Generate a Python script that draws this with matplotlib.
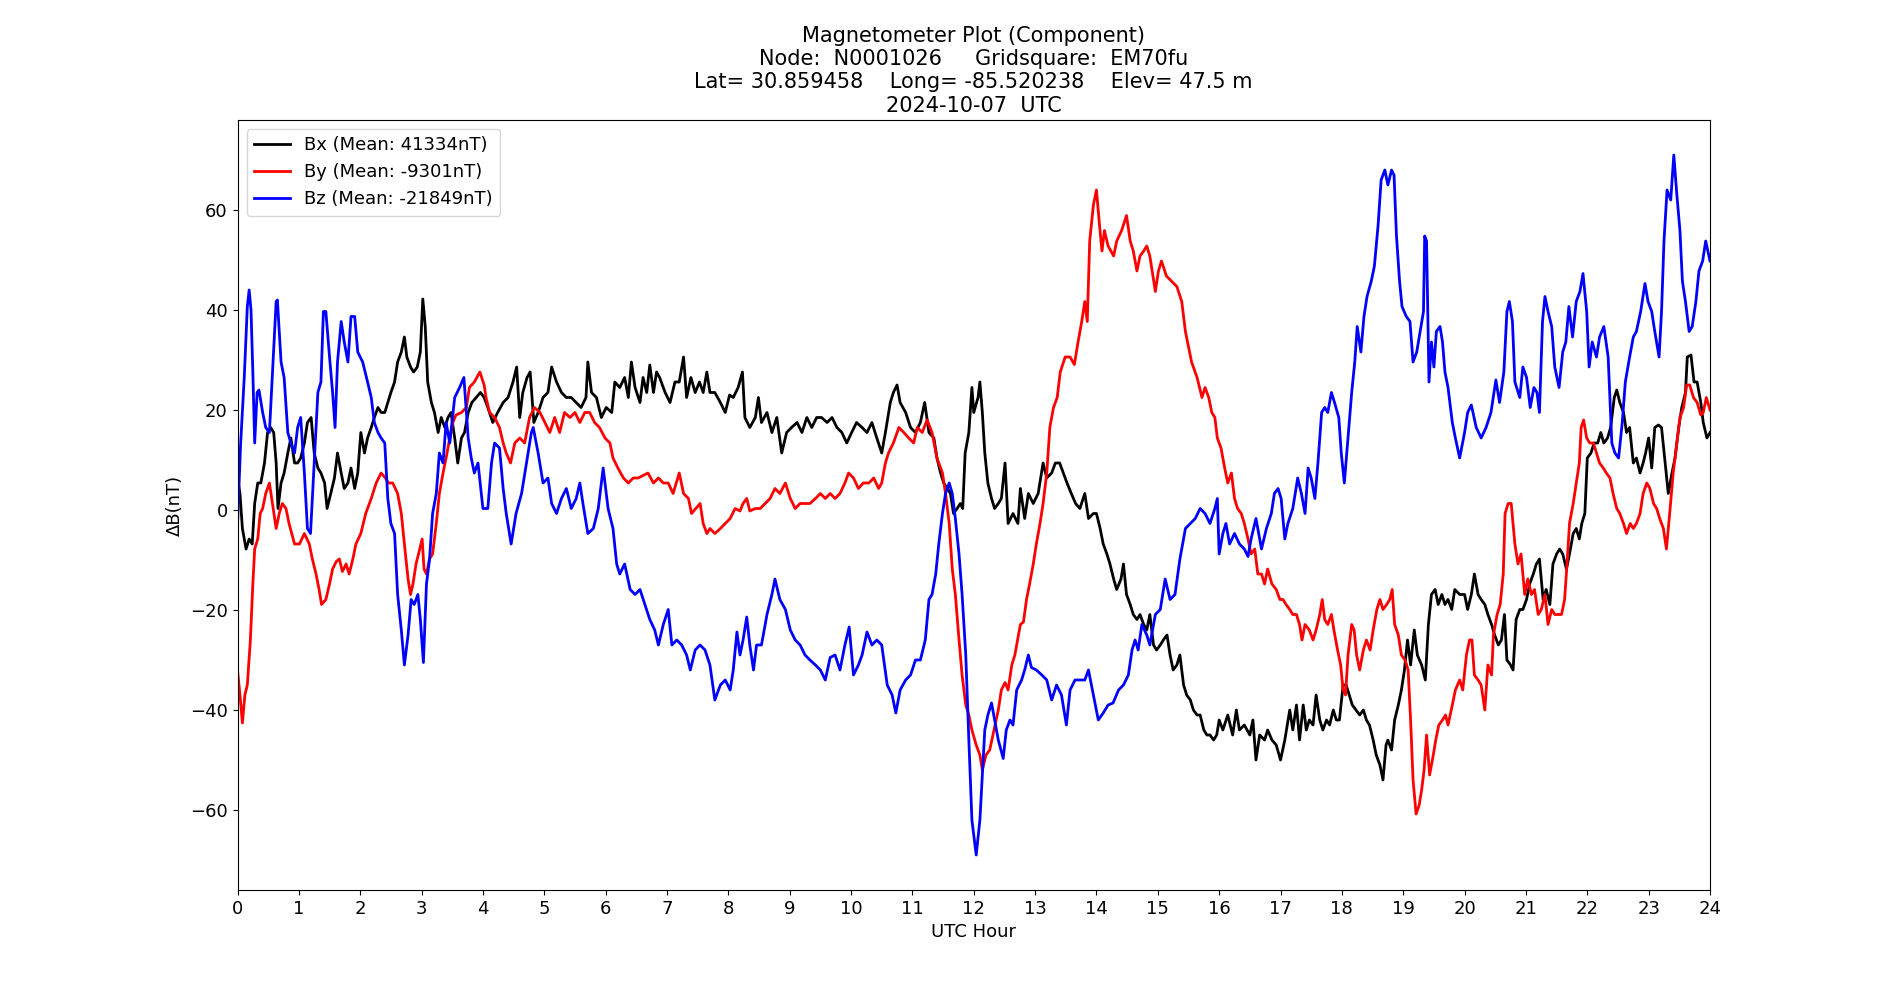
import matplotlib
matplotlib.use("Agg")
from matplotlib import pyplot as plt

# readings: (UTC hour, delta nT)
bx_t = [0, 0.04, 0.08, 0.14, 0.19, 0.24, 0.28, 0.33, 0.38, 0.44, 0.49, 0.54, 0.59, 0.63, 0.66, 0.71, 0.76, 0.82, 0.87, 0.93,
        0.98, 1.03, 1.09, 1.14, 1.2, 1.25, 1.31, 1.36, 1.42, 1.46, 1.52, 1.58, 1.63, 1.69, 1.74, 1.8, 1.85, 1.91, 1.96, 2.01,
        2.07, 2.12, 2.18, 2.23, 2.29, 2.34, 2.4, 2.45, 2.5, 2.56, 2.61, 2.67, 2.72, 2.76, 2.82, 2.87, 2.93, 2.98, 3.02, 3.06,
        3.1, 3.16, 3.21, 3.27, 3.32, 3.38, 3.43, 3.48, 3.54, 3.59, 3.65, 3.7, 3.76, 3.82, 3.89, 3.96,
        4.02, 4.08, 4.16, 4.24, 4.33, 4.41, 4.49, 4.55, 4.6, 4.65, 4.72, 4.77, 4.83, 4.9, 4.98, 5.06, 5.12, 5.2, 5.28, 5.36,
        5.44, 5.52, 5.6, 5.68, 5.71, 5.77, 5.85, 5.93, 6.01, 6.1, 6.15, 6.23, 6.31, 6.37, 6.42, 6.48, 6.56, 6.61, 6.67, 6.72,
        6.78, 6.83, 6.88, 6.97, 7.05, 7.13, 7.2, 7.27, 7.32, 7.39, 7.46, 7.53, 7.59, 7.65, 7.7, 7.78, 7.87, 7.95,
        8.02, 8.08, 8.16, 8.23, 8.27, 8.35, 8.44, 8.49, 8.54, 8.63, 8.71, 8.79, 8.87, 8.95, 9.03, 9.12, 9.2, 9.28, 9.36, 9.44,
        9.52, 9.61, 9.69, 9.77, 9.85, 9.93, 10.01, 10.09, 10.18, 10.26, 10.34, 10.42, 10.5, 10.56, 10.64, 10.69, 10.75, 10.8,
        10.89, 10.97, 11.05, 11.13, 11.2, 11.27, 11.35, 11.4, 11.46, 11.51, 11.57, 11.62, 11.67, 11.73, 11.78, 11.82, 11.86,
        11.92, 11.97, 12.0, 12.07, 12.1, 12.14, 12.18, 12.23, 12.29, 12.34, 12.4, 12.45, 12.51, 12.56, 12.64, 12.72, 12.76,
        12.83, 12.89, 12.97, 13.05, 13.13, 13.19, 13.27, 13.33, 13.4, 13.46, 13.52, 13.59, 13.66, 13.73, 13.81, 13.87, 13.95,
        14.0, 14.06, 14.11, 14.17, 14.22, 14.28, 14.33, 14.4, 14.44, 14.49, 14.55, 14.6, 14.66, 14.71, 14.77, 14.82, 14.87,
        14.93, 14.98, 15.04, 15.09, 15.15, 15.2, 15.25, 15.31, 15.36, 15.42, 15.47, 15.53, 15.58, 15.64, 15.69, 15.75, 15.8,
        15.85, 15.91, 15.96, 16.0, 16.06, 16.14, 16.22, 16.28, 16.33, 16.41, 16.5, 16.55, 16.6, 16.66, 16.74, 16.79, 16.86,
        16.93, 17.0, 17.07, 17.15, 17.2, 17.26, 17.31, 17.37, 17.42, 17.47, 17.53, 17.58, 17.64, 17.69, 17.75, 17.8, 17.86,
        17.91, 17.96, 18.02, 18.07, 18.12, 18.17, 18.23, 18.29, 18.35, 18.4, 18.45, 18.51, 18.56, 18.62, 18.67, 18.72, 18.75,
        18.81, 18.86, 18.92, 18.97, 19.02, 19.07, 19.12, 19.18, 19.23, 19.3, 19.36, 19.41, 19.46, 19.52, 19.57, 19.63, 19.68,
        19.73, 19.79, 19.84, 19.92, 20.0, 20.05, 20.11, 20.16, 20.22, 20.27, 20.33, 20.38, 20.44, 20.49, 20.55, 20.6, 20.65,
        20.69, 20.75, 20.79, 20.84, 20.9, 20.95, 21.01, 21.06, 21.12, 21.17, 21.22, 21.28, 21.33, 21.39, 21.44, 21.5, 21.55,
        21.6, 21.66, 21.71, 21.77, 21.82, 21.87, 21.91, 21.96, 22.0, 22.06, 22.11, 22.17, 22.22, 22.27, 22.33, 22.38, 22.44,
        22.48, 22.53, 22.59, 22.64, 22.69, 22.75, 22.8, 22.86, 22.91, 22.95, 23.0, 23.05, 23.1, 23.16, 23.21, 23.27, 23.32,
        23.38, 23.43, 23.49, 23.54, 23.6, 23.63, 23.69, 23.74, 23.79, 23.85, 23.89, 23.95, 24.0]
bx_v = [6.4, 3.3, -3.7, -7.8, -5.8, -6.8, 1.3, 5.4, 5.4, 9.4, 15.5, 16.5, 15.5, 9.4, 0.3, 5.4, 7.4, 11.4, 14.4, 9.4,
        9.4, 10.4, 13.4, 17.5, 18.5, 11.4, 8.4, 7.4, 5.4, 0.3, 3.3, 6.4, 11.4, 7.4, 4.3, 5.4, 8.4, 4.3, 7.4, 15.5,
        11.4, 14.4, 16.5, 18.5, 20.5, 19.5, 19.5, 21.5, 23.5, 25.6, 29.6, 31.6, 34.6, 30.6, 28.6, 27.6, 28.6, 31.6, 42.2, 36.7,
        25.6, 21.5, 19.5, 15.5, 18.5, 16.5, 18.5, 19.5, 14.4, 9.4, 14.4, 15.5, 19.5, 21.5, 22.5, 23.5,
        22.5, 20.5, 17.5, 19.5, 21.5, 22.5, 25.6, 28.6, 18.5, 23.5, 26.5, 27.6, 17.5, 19.5, 22.5, 23.5, 28.6, 25.6, 23.5, 22.5,
        22.5, 21.5, 20.5, 22.5, 29.6, 23.5, 22.5, 18.5, 20.5, 19.5, 25.6, 24.5, 26.5, 22.5, 29.6, 24.5, 21.5, 26.5, 23.5, 29.0,
        23.5, 27.6, 26.5, 23.5, 21.5, 25.6, 25.6, 30.6, 22.5, 26.5, 23.5, 25.6, 23.5, 27.6, 23.5, 23.5, 21.5, 19.5,
        23.0, 22.5, 24.5, 27.6, 18.5, 16.5, 18.5, 22.5, 17.5, 19.5, 15.5, 18.5, 11.4, 15.5, 16.5, 17.5, 15.5, 18.5, 16.5, 18.5,
        18.5, 17.5, 18.5, 16.5, 15.5, 13.4, 15.5, 17.5, 16.5, 15.5, 17.5, 14.4, 11.4, 15.5, 21.5, 23.5, 25.0, 21.5,
        19.5, 16.5, 15.5, 17.5, 21.5, 15.5, 14.4, 10.4, 7.4, 5.4, 4.3, 3.3, -0.7, 0.3, 1.3, 0.3, 11.4,
        15.5, 24.5, 19.5, 22.5, 25.6, 19.5, 11.4, 5.4, 2.3, 0.3, 1.3, 2.3, 9.4, -2.7, -0.7, -2.7, 4.3,
        -1.7, 3.3, 1.3, 3.3, 9.4, 6.4, 7.4, 9.4, 9.4, 7.4, 5.4, 3.3, 1.3, 0.3, 3.3, -1.7, -0.7,
        -0.7, -3.7, -6.8, -8.8, -10.8, -13.8, -15.9, -13.8, -10.8, -16.9, -18.9, -20.9, -21.9, -20.9, -22.9, -24.0, -20.9,
        -27.0, -28.0, -27.0, -26.0, -25.0, -29.0, -32.0, -31.0, -29.0, -35.0, -37.0, -38.0, -40.0, -41.0, -41.0, -44.0, -45.0,
        -45.0, -46.0, -45.0, -42.0, -44.0, -41.0, -45.0, -40.0, -44.0, -43.0, -45.0, -42.0, -50.0, -45.0, -46.0, -44.0, -46.0,
        -47.0, -50.0, -46.0, -40.0, -44.0, -39.0, -46.0, -39.0, -44.0, -42.0, -43.0, -37.0, -42.0, -44.0, -42.0, -43.0, -40.0,
        -42.0, -42.0, -35.0, -35.0, -37.0, -39.0, -40.0, -41.0, -40.0, -42.0, -43.0, -46.0, -49.0, -51.0, -54.0, -47.0, -46.0,
        -48.0, -42.0, -39.0, -36.0, -32.0, -26.0, -31.0, -24.0, -29.0, -31.0, -34.0, -22.9, -16.9, -15.9, -18.9, -16.9, -18.9,
        -17.9, -19.9, -15.9, -16.9, -16.9, -19.9, -16.9, -12.8, -16.9, -17.9, -18.9, -20.9, -22.9, -25.0, -27.0, -26.0, -20.9,
        -30.0, -31.0, -32.0, -21.9, -19.9, -19.9, -17.9, -14.8, -12.8, -10.8, -9.8, -17.9, -15.9, -18.9, -10.8, -8.8, -7.8,
        -8.8, -11.8, -8.8, -4.7, -3.7, -5.8, -2.7, -0.7, 10.4, 11.4, 13.4, 13.4, 15.5, 13.4, 14.4, 16.5, 22.5,
        24.0, 21.5, 19.5, 15.5, 16.5, 9.4, 10.4, 7.4, 9.4, 11.4, 14.4, 8.4, 16.5, 17.0, 16.5, 9.4, 3.3,
        7.4, 10.4, 16.5, 20.5, 23.5, 30.6, 31.0, 25.6, 25.6, 21.5, 17.5, 14.4, 15.5]

by_t = [0, 0.04, 0.08, 0.12, 0.16, 0.21, 0.25, 0.28, 0.33, 0.37, 0.41, 0.46, 0.52, 0.57, 0.63, 0.68, 0.73, 0.79, 0.84, 0.93,
        1.01, 1.09, 1.17, 1.22, 1.28, 1.33, 1.37, 1.44, 1.5, 1.55, 1.61, 1.66, 1.71, 1.77, 1.82, 1.88, 1.93, 2.01, 2.09, 2.18,
        2.26, 2.34, 2.41, 2.46, 2.53, 2.61, 2.67, 2.72, 2.78, 2.82, 2.86, 2.91, 2.97, 3.01, 3.04, 3.08, 3.13, 3.18, 3.24, 3.29,
        3.35, 3.4, 3.46, 3.51, 3.56, 3.65, 3.73, 3.78, 3.86, 3.95,
        4.02, 4.05, 4.11, 4.19, 4.27, 4.33, 4.38, 4.45, 4.52, 4.6, 4.68, 4.76, 4.84, 4.93, 5.01, 5.09, 5.17, 5.25, 5.33, 5.42,
        5.5, 5.58, 5.66, 5.74, 5.82, 5.9, 5.99, 6.07, 6.12, 6.2, 6.29, 6.37, 6.45, 6.53, 6.61, 6.69, 6.78, 6.86, 6.94, 7.02,
        7.1, 7.2, 7.27, 7.35, 7.4, 7.47, 7.54, 7.59, 7.65, 7.7, 7.78, 7.87, 7.95,
        8.03, 8.11, 8.19, 8.24, 8.3, 8.35, 8.44, 8.52, 8.6, 8.68, 8.76, 8.84, 8.93, 9.01, 9.09, 9.17, 9.25, 9.33, 9.42, 9.5,
        9.58, 9.66, 9.74, 9.82, 9.9, 9.96, 10.04, 10.12, 10.2, 10.29, 10.37, 10.45, 10.5, 10.56, 10.61, 10.69, 10.78, 10.86,
        10.94, 11.02, 11.08, 11.16, 11.24, 11.32, 11.4, 11.49, 11.54, 11.6, 11.65, 11.7, 11.76, 11.81, 11.87, 11.92, 11.97,
        12.04, 12.1, 12.14, 12.2, 12.26, 12.33, 12.4, 12.45, 12.51, 12.56, 12.62, 12.67, 12.76, 12.81, 12.86, 12.91, 12.97,
        13.02, 13.08, 13.13, 13.19, 13.24, 13.3, 13.36, 13.41, 13.49, 13.57, 13.64, 13.7, 13.76, 13.81, 13.85, 13.89, 13.95,
        14.0, 14.05, 14.09, 14.13, 14.19, 14.28, 14.33, 14.41, 14.49, 14.55, 14.6, 14.66, 14.71, 14.77, 14.82, 14.87, 14.96,
        15.01, 15.06, 15.14, 15.22, 15.31, 15.39, 15.45, 15.5, 15.55, 15.64, 15.72, 15.77, 15.83, 15.88, 15.93, 15.97, 16.03,
        16.09, 16.14, 16.2, 16.25, 16.3, 16.36, 16.41, 16.47, 16.52, 16.58, 16.63, 16.69, 16.74, 16.79, 16.86, 16.93, 16.99,
        17.04, 17.09, 17.15, 17.2, 17.26, 17.31, 17.35, 17.4, 17.47, 17.53, 17.58, 17.64, 17.68, 17.72, 17.77, 17.83, 17.87,
        17.93, 17.98, 18.02, 18.06, 18.1, 18.16, 18.2, 18.24, 18.29, 18.35, 18.4, 18.46, 18.51, 18.57, 18.62, 18.67, 18.73,
        18.78, 18.82, 18.86, 18.92, 18.97, 19.03, 19.08, 19.12, 19.16, 19.21, 19.26, 19.3, 19.34, 19.38, 19.43, 19.49, 19.53,
        19.58, 19.64, 19.69, 19.73, 19.8, 19.85, 19.92, 19.97, 20.03, 20.08, 20.12, 20.16, 20.22, 20.27, 20.33, 20.38, 20.44,
        20.47, 20.53, 20.58, 20.63, 20.66, 20.71, 20.76, 20.82, 20.87, 20.92, 20.98, 21.03, 21.09, 21.14, 21.2, 21.25, 21.31,
        21.36, 21.42, 21.47, 21.52, 21.58, 21.63, 21.67, 21.71, 21.77, 21.82, 21.87, 21.9, 21.94, 21.99, 22.04, 22.1, 22.15,
        22.2, 22.26, 22.31, 22.37, 22.42, 22.48, 22.53, 22.59, 22.64, 22.7, 22.75, 22.8, 22.86, 22.91, 22.97, 23.02, 23.08,
        23.13, 23.18, 23.24, 23.29, 23.35, 23.4, 23.46, 23.51, 23.57, 23.62, 23.67, 23.73, 23.79, 23.85, 23.89, 23.94, 24.0]
by_v = [-32.0, -37.0, -42.6, -37.0, -35.0, -26.0, -14.8, -7.8, -5.8, -0.7, 0.3, 3.3, 5.4, 1.3, -3.7, -0.7, 1.3, 0.3, -2.7, -6.8,
        -6.8, -4.7, -6.8, -9.8, -12.8, -15.9, -18.9, -17.9, -14.8, -11.8, -10.3, -9.8, -12.3, -10.8, -12.8, -9.8, -6.8, -4.7, -0.7, 2.3,
        5.4, 7.4, 6.4, 5.4, 5.4, 3.3, -0.7, -6.8, -13.8, -16.9, -14.8, -10.8, -7.8, -5.8, -11.8, -12.8, -9.8, -8.8, -2.7, 3.3,
        7.4, 10.4, 14.4, 17.5, 19.0, 19.5, 20.5, 24.5, 25.6, 27.6,
        25.0, 22.5, 19.5, 18.5, 16.5, 13.4, 11.4, 9.4, 13.4, 14.4, 13.4, 18.5, 20.5, 19.5, 17.5, 15.5, 18.5, 15.5, 19.5, 18.5,
        19.5, 17.5, 19.5, 19.5, 17.5, 16.5, 14.4, 13.4, 10.4, 8.4, 6.4, 5.4, 6.4, 6.4, 6.9, 7.4, 5.4, 6.4, 5.4, 5.4,
        3.3, 7.4, 3.3, 2.3, -0.7, 0.3, 1.3, -2.7, -4.7, -3.7, -4.7, -3.7, -2.7,
        -1.7, 0.3, -0.2, 1.3, 2.3, -0.2, 0.3, 0.3, 1.3, 2.3, 4.3, 3.3, 5.4, 2.3, 0.3, 1.3, 1.3, 1.3, 2.3, 3.3,
        2.3, 3.3, 2.3, 3.3, 5.4, 7.4, 6.4, 4.3, 5.4, 5.4, 6.4, 4.3, 5.4, 9.4, 11.4, 13.4, 16.5, 15.5,
        14.4, 13.4, 16.5, 15.5, 18.0, 15.5, 10.4, 7.4, 3.3, -2.7, -11.8, -16.9, -26.0, -33.0, -39.0, -41.0, -44.0,
        -47.0, -49.0, -52.0, -49.0, -48.0, -44.0, -40.0, -36.0, -34.5, -36.0, -31.0, -29.0, -22.9, -22.4, -17.9, -14.8, -10.8,
        -6.8, -2.7, 1.3, 7.4, 16.5, 20.5, 22.5, 27.6, 30.6, 30.6, 29.1, 33.6, 37.7, 41.7, 37.7, 53.8, 61.0,
        64.0, 56.9, 51.8, 55.9, 52.8, 50.8, 53.8, 55.9, 58.9, 53.8, 51.8, 47.8, 50.8, 51.8, 52.8, 50.8, 43.7,
        47.8, 49.8, 46.8, 45.8, 44.7, 41.7, 35.7, 32.6, 29.6, 26.5, 22.5, 24.5, 22.5, 19.5, 18.5, 14.4, 12.4,
        8.4, 5.4, 7.4, 2.3, 0.3, -0.7, -2.7, -5.8, -8.8, -7.8, -12.8, -12.8, -14.8, -11.8, -14.8, -15.9, -17.9,
        -17.9, -18.9, -19.9, -20.9, -20.9, -22.9, -26.0, -22.9, -24.0, -26.0, -24.0, -20.9, -17.9, -21.9, -22.9, -20.9, -24.0,
        -28.0, -31.0, -36.0, -37.0, -29.0, -22.9, -24.0, -29.0, -32.0, -28.0, -26.0, -28.0, -24.0, -19.9, -17.9, -19.9, -18.9,
        -17.9, -15.9, -22.9, -25.0, -29.0, -30.0, -32.0, -42.0, -54.0, -60.8, -59.0, -56.0, -52.0, -45.0, -53.0, -49.0, -46.0,
        -43.0, -42.0, -41.0, -43.0, -39.0, -36.0, -34.0, -36.0, -29.0, -26.0, -26.0, -33.0, -34.0, -35.0, -40.0, -31.0, -33.0,
        -25.0, -20.9, -18.9, -12.8, -0.7, 1.3, 1.3, -6.8, -10.8, -8.8, -16.9, -13.8, -16.9, -15.9, -20.9, -19.9, -16.9,
        -22.9, -19.9, -20.9, -20.9, -20.9, -17.9, -10.8, -2.7, 1.3, 5.4, 9.4, 16.5, 18.0, 14.4, 13.4, 13.4, 11.4,
        9.4, 8.4, 7.4, 6.4, 3.3, 0.3, -0.7, -2.7, -4.7, -2.7, -3.7, -2.7, -0.7, 3.3, 5.4, 4.3, 1.3,
        0.3, -1.7, -3.7, -7.8, 0.3, 7.4, 13.4, 18.5, 20.5, 25.0, 25.0, 22.5, 21.5, 19.0, 19.5, 22.5, 20.0]

bz_t = [0, 0.05, 0.11, 0.16, 0.19, 0.22, 0.25, 0.28, 0.32, 0.35, 0.41, 0.46, 0.52, 0.57, 0.63, 0.65, 0.71, 0.76, 0.82, 0.87,
        0.93, 0.98, 1.03, 1.09, 1.14, 1.19, 1.25, 1.31, 1.36, 1.4, 1.44, 1.5, 1.55, 1.59, 1.63, 1.69, 1.74, 1.8, 1.85, 1.91,
        1.96, 2.04, 2.12, 2.18, 2.23, 2.29, 2.34, 2.4, 2.45, 2.5, 2.56, 2.61, 2.67, 2.72, 2.78, 2.83, 2.88, 2.94, 2.98, 3.03,
        3.08, 3.13, 3.18, 3.24, 3.29, 3.35, 3.4, 3.46, 3.54, 3.62, 3.69, 3.76, 3.81, 3.86, 3.92,
        4.0, 4.08, 4.14, 4.19, 4.27, 4.33, 4.38, 4.46, 4.54, 4.63, 4.71, 4.79, 4.82, 4.9, 4.98, 5.06, 5.12, 5.2, 5.28, 5.36,
        5.44, 5.52, 5.58, 5.63, 5.71, 5.8, 5.88, 5.96, 6.04, 6.12, 6.18, 6.23, 6.31, 6.4, 6.48, 6.56, 6.64, 6.72, 6.8, 6.86,
        6.94, 7.02, 7.08, 7.16, 7.24, 7.32, 7.38, 7.46, 7.54, 7.62, 7.7, 7.78, 7.87, 7.95,
        8.03, 8.08, 8.14, 8.19, 8.24, 8.3, 8.35, 8.41, 8.46, 8.54, 8.63, 8.71, 8.76, 8.84, 8.93, 9.01, 9.09, 9.17, 9.25, 9.33,
        9.42, 9.5, 9.58, 9.66, 9.74, 9.82, 9.9, 9.97, 10.04, 10.12, 10.18, 10.26, 10.34, 10.42, 10.5, 10.59, 10.67, 10.73,
        10.8, 10.89, 10.97, 11.05, 11.13, 11.21, 11.27, 11.32, 11.38, 11.43, 11.49, 11.54, 11.6, 11.65, 11.7, 11.76, 11.81,
        11.87, 11.92, 11.97, 12.02, 12.04, 12.1, 12.14, 12.18, 12.23, 12.29, 12.34, 12.4, 12.48, 12.53, 12.59, 12.64, 12.7,
        12.78, 12.83, 12.89, 12.94, 13.02, 13.11, 13.19, 13.27, 13.35, 13.43, 13.51, 13.57, 13.65, 13.73, 13.81, 13.87, 13.95,
        14.03, 14.11, 14.19, 14.27, 14.36, 14.44, 14.52, 14.58, 14.63, 14.68, 14.74, 14.82, 14.87, 14.96, 15.04, 15.12, 15.2,
        15.28, 15.36, 15.45, 15.53, 15.61, 15.69, 15.77, 15.85, 15.93, 15.97, 16.0, 16.06, 16.11, 16.17, 16.25, 16.33, 16.41,
        16.47, 16.52, 16.6, 16.69, 16.77, 16.85, 16.9, 16.96, 17.01, 17.07, 17.12, 17.2, 17.28, 17.34, 17.4, 17.45, 17.5,
        17.56, 17.61, 17.67, 17.72, 17.77, 17.83, 17.88, 17.95, 17.99, 18.04, 18.1, 18.16, 18.21, 18.25, 18.31, 18.36, 18.41,
        18.48, 18.53, 18.59, 18.64, 18.7, 18.75, 18.81, 18.85, 18.89, 18.94, 18.98, 19.05, 19.11, 19.16, 19.22, 19.29, 19.33,
        19.35, 19.38, 19.42, 19.46, 19.5, 19.54, 19.6, 19.64, 19.68, 19.73, 19.8, 19.85, 19.92, 20.0, 20.05, 20.11, 20.19,
        20.27, 20.35, 20.43, 20.51, 20.57, 20.64, 20.69, 20.73, 20.78, 20.82, 20.9, 20.95, 21.01, 21.07, 21.13, 21.18, 21.22,
        21.27, 21.31, 21.36, 21.42, 21.47, 21.54, 21.6, 21.65, 21.7, 21.76, 21.82, 21.88, 21.93, 21.99, 22.03, 22.08, 22.15,
        22.2, 22.27, 22.34, 22.4, 22.45, 22.51, 22.57, 22.62, 22.69, 22.75, 22.8, 22.87, 22.94, 22.99, 23.05, 23.1, 23.17,
        23.21, 23.25, 23.3, 23.36, 23.41, 23.46, 23.51, 23.55, 23.6, 23.66, 23.71, 23.77, 23.82, 23.88, 23.93, 24.0]
bz_v = [-3.0, 13.0, 26.5, 40.7, 44.0, 40.0, 27.6, 13.4, 23.5, 24.0, 19.5, 16.5, 15.5, 27.6, 41.7, 42.0, 29.6, 26.5, 15.5, 13.4,
        11.4, 16.5, 18.5, 7.4, -3.7, -4.7, 9.4, 23.5, 25.6, 39.7, 39.7, 30.6, 23.5, 16.5, 29.6, 37.7, 33.6, 29.6, 38.7, 38.7,
        31.6, 29.6, 25.6, 22.5, 17.5, 15.5, 14.4, 13.4, 2.3, -2.7, -4.7, -16.9, -24.0, -31.0, -25.0, -17.9, -18.9, -16.9, -21.9, -30.5,
        -14.8, -9.8, -0.7, 3.3, 11.4, 9.4, 17.5, 13.4, 22.5, 24.5, 26.5, 14.4, 10.4, 7.4, 9.4,
        0.3, 0.3, 9.4, 13.4, 12.4, 4.3, -0.7, -6.8, -0.7, 3.3, 9.4, 15.5, 16.5, 11.4, 5.4, 6.4, 1.3, -0.7, 2.3, 4.3,
        0.3, 2.3, 5.4, 1.3, -4.7, -3.7, 0.3, 8.4, 0.3, -3.7, -10.8, -12.8, -10.8, -15.9, -16.9, -15.9, -18.9, -21.9, -24.0, -27.0,
        -22.9, -19.9, -27.0, -26.0, -27.0, -29.0, -32.0, -28.0, -27.0, -28.0, -31.0, -38.0, -35.0, -34.0,
        -36.0, -32.0, -24.4, -29.0, -26.0, -21.4, -27.0, -32.0, -27.0, -27.0, -20.9, -16.9, -13.8, -17.9, -19.9, -24.0, -26.0, -27.0, -29.0, -30.0,
        -31.0, -32.0, -34.0, -29.5, -29.0, -32.0, -27.0, -23.4, -33.0, -31.0, -29.0, -24.4, -27.0, -26.0, -27.0, -35.0, -37.0, -40.6,
        -36.0, -34.0, -33.0, -30.0, -30.0, -26.0, -17.9, -16.9, -12.8, -6.8, -0.7, 3.3, 5.4, 3.3, -1.7, -8.8, -16.9,
        -29.0, -46.0, -62.0, -67.0, -69.0, -62.0, -53.0, -44.0, -41.0, -38.6, -42.0, -46.0, -49.7, -44.0, -42.0, -43.0, -36.0,
        -34.0, -32.0, -29.0, -31.5, -32.0, -33.0, -34.0, -38.0, -35.0, -37.0, -43.0, -36.0, -34.0, -34.0, -34.0, -32.0, -37.0,
        -42.0, -40.6, -39.0, -38.6, -36.0, -35.0, -33.0, -28.0, -26.0, -28.0, -22.9, -25.0, -27.0, -20.9, -19.9, -13.8, -17.9,
        -16.9, -9.8, -3.7, -2.7, -1.7, 0.3, -0.7, -2.7, 0.3, 2.3, -8.8, -4.7, -2.7, -6.8, -4.7, -6.8, -7.8,
        -9.3, -5.8, -1.7, -7.8, -3.7, -0.7, 3.3, 4.3, 2.3, -5.8, -2.7, 0.3, 6.4, 3.3, -0.7, 8.4, 6.4,
        2.3, 9.4, 19.5, 20.5, 19.5, 23.5, 21.5, 18.5, 11.4, 5.4, 14.4, 23.5, 29.6, 36.7, 31.6, 38.7, 42.7,
        45.8, 48.8, 56.9, 66.0, 68.0, 65.0, 68.0, 67.0, 54.8, 45.8, 40.7, 38.7, 37.7, 29.6, 31.6, 36.7, 39.7,
        54.8, 53.8, 25.6, 33.6, 28.6, 35.7, 36.7, 33.6, 27.6, 24.5, 17.5, 14.4, 10.4, 15.5, 19.5, 21.0, 16.5,
        14.4, 16.5, 19.5, 26.0, 21.5, 27.6, 39.7, 41.7, 37.7, 25.6, 22.5, 28.6, 26.5, 20.5, 24.5, 23.5, 19.5,
        37.7, 42.7, 39.7, 36.7, 28.6, 24.5, 31.6, 33.6, 40.7, 34.6, 41.7, 43.7, 47.3, 39.7, 28.6, 33.6, 30.6,
        34.6, 36.7, 30.6, 13.4, 11.4, 10.4, 17.5, 25.6, 30.6, 34.6, 35.7, 39.7, 45.3, 41.7, 39.7, 35.7, 30.6,
        39.7, 53.8, 64.0, 62.0, 71.0, 63.0, 55.9, 45.8, 41.7, 35.7, 36.7, 41.7, 47.8, 49.8, 53.8, 49.8]

bx_mean, by_mean, bz_mean = 41334, -9301, -21849

plt.rcParams['font.size'] = 13

fig, ax = plt.subplots(figsize=(19, 10), dpi=100)

ax.plot(bx_t, bx_v, color='black', linewidth=2, label=f'Bx (Mean: {bx_mean}nT)')
ax.plot(by_t, by_v, color='red', linewidth=2, label=f'By (Mean: {by_mean}nT)')
ax.plot(bz_t, bz_v, color='blue', linewidth=2, label=f'Bz (Mean: {bz_mean}nT)')

ax.set_xlim(0, 24)
ax.set_xticks(range(0, 25))
ax.set_xlabel('UTC Hour')
ax.set_ylabel('\u0394B(nT)')
ax.set_title('Magnetometer Plot (Component)\n'
             'Node:  N0001026     Gridsquare:  EM70fu\n'
             'Lat= 30.859458    Long= -85.520238    Elev= 47.5 m\n'
             '2024-10-07  UTC', fontsize=15)
ax.legend(loc='upper left')

fig.savefig('out.png')
